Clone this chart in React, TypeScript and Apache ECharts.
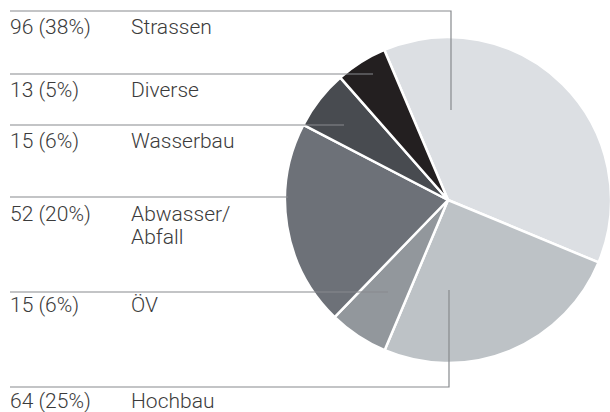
import React, { useEffect, useRef } from "react";
import * as echarts from "echarts";

// Investment split by sector (count of projects)
const categories = ["Strassen", "Hochbau", "ÖV", "Abwasser/\nAbfall", "Wasserbau", "Diverse"];
const values = [96, 64, 15, 52, 15, 13];
const sliceColors = ["#dcdfe3", "#bdc2c6", "#92979c", "#6d7178", "#484b50", "#231f20"];

// Label rows on the left: y of the rule above each row and the leader line route
const rows = [
  { idx: 0, ruleY: 11, textY: 27, path: [[451, 11], [451, 110]] },
  { idx: 5, ruleY: 74, textY: 90, path: [[373, 74]] },
  { idx: 4, ruleY: 125, textY: 141, path: [[344, 125]] },
  { idx: 3, ruleY: 197, textY: 214, path: [[288, 197]] },
  { idx: 2, ruleY: 292, textY: 305, path: [[388, 292]] },
  { idx: 1, ruleY: 387, textY: 401, path: [[449, 387], [449, 290]] },
];

const LEFT = 10;
const NAME_X = 131;
const FONT = "Roboto, 'Helvetica Neue', Arial, sans-serif";
const TEXT_COLOR = "#3b3b3b";
const LINE_COLOR = "#878a8e";

export default function App() {
  const ref = useRef<HTMLDivElement>(null);

  useEffect(() => {
    if (!ref.current) return;
    const chart = echarts.init(ref.current, undefined, { renderer: "svg" });
    const total = values.reduce((a, b) => a + b, 0);

    const graphics: any[] = [];
    rows.forEach((r) => {
      const v = values[r.idx];
      const pct = Math.round((v / total) * 100);
      graphics.push({
        type: "polyline",
        z: 10,
        silent: true,
        shape: { points: [[LEFT, r.ruleY], ...r.path] },
        style: { stroke: LINE_COLOR, lineWidth: 1.2, fill: null },
      });
      graphics.push({
        type: "text",
        z: 10,
        x: LEFT,
        y: r.textY,
        style: {
          text: `${v} (${pct}%)`,
          font: `300 21px ${FONT}`,
          fill: TEXT_COLOR,
          verticalAlign: "middle",
        },
      });
      const lines = categories[r.idx].split("\n");
      lines.forEach((t, i) => {
        graphics.push({
          type: "text",
          z: 10,
          x: NAME_X,
          y: r.textY + i * 23,
          style: {
            text: t,
            font: `300 21px ${FONT}`,
            fill: TEXT_COLOR,
            verticalAlign: "middle",
          },
        });
      });
    });

    chart.setOption({
      animation: false,
      backgroundColor: "#ffffff",
      graphic: graphics,
      series: [
        {
          type: "pie",
          silent: true,
          center: [448, 200],
          radius: 163,
          startAngle: 113,
          clockwise: true,
          label: { show: false },
          labelLine: { show: false },
          itemStyle: { borderColor: "#ffffff", borderWidth: 2.5 },
          data: categories.map((name, i) => ({
            name,
            value: values[i],
            itemStyle: { color: sliceColors[i] },
          })),
        },
      ],
    });

    return () => chart.dispose();
  }, []);

  return (
    <div
      ref={ref}
      style={{ position: "fixed", left: 0, top: 0, width: 610, height: 412 }}
    />
  );
}
